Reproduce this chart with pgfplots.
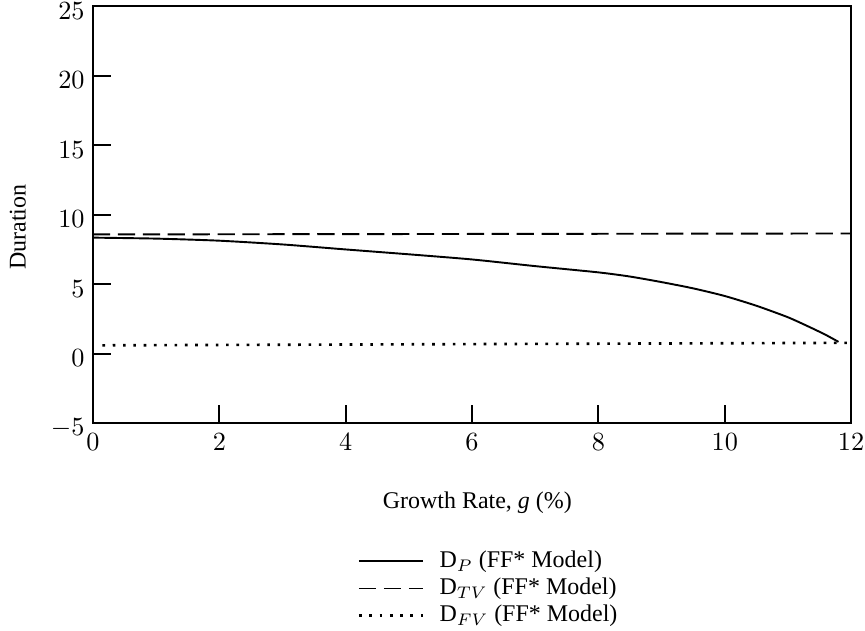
\documentclass[border=0pt]{standalone}
\usepackage{pgfplots}
\pgfplotsset{compat=1.18}
\usepackage{fontspec}
\setmainfont{Liberation Serif}
\begin{document}
\begin{tikzpicture}
\begin{axis}[
  scale only axis,
  width=316.4pt, height=174pt,
  xmin=0, xmax=12, ymin=-5, ymax=25,
  xtick={0,2,...,12}, ytick={-5,0,...,25},
  tick align=inside, xtick pos=bottom, ytick pos=left,
  major tick length=7.5pt,
  tick label style={font=\fontsize{11}{13}\selectfont},
  yticklabel style={yshift=-2pt},
  xticklabel style={yshift=-1pt},
  axis line style={line width=1pt},
  every tick/.style={black, line width=0.9pt},
  xlabel={Growth Rate, \textit{g} (\%)},
  ylabel={Duration},
  xlabel style={at={(axis description cs:0.507,-0.19)}, anchor=center},
  ylabel style={at={(axis description cs:-0.099,0.47)}, anchor=center},
  legend cell align=left,
  legend style={draw=none, fill=none, at={(0.3485,-0.298)}, anchor=north west,
    inner sep=0pt, row sep=0pt, font=\normalsize,
    nodes={inner xsep=0pt, inner ysep=0.3pt, text height=8pt, text depth=2.7pt},
    /tikz/every odd column/.style={column sep=6.4pt}},
  legend image code/.code={\draw[#1] (0pt,0pt) -- (26.7pt,0pt);},
]
\coordinate (o) at (rel axis cs:0,0);
\addplot[black, line width=0.8pt, smooth, tension=0.4] coordinates {
(0,8.35) (1,8.28) (2,8.13) (3,7.86) (4,7.5) (5,7.15) (6,6.78) (7,6.3)
(8,5.85) (8.5,5.55) (9,5.15) (9.5,4.7) (10,4.15) (10.5,3.45) (11,2.62)
(11.35,1.9) (11.6,1.35) (11.8,0.85)};
\addlegendentry{D$_{P}$ (FF* Model)}
\addplot[black, line width=0.8pt, dash pattern=on 7.2pt off 3.2pt] coordinates {(0,8.58) (12,8.65)};
\addlegendentry{D$_{TV}$ (FF* Model)}
\addplot[black, line width=1.1pt, dash pattern=on 1.1pt off 3.2pt] coordinates {(0.15,0.6) (12,0.78)};
\addlegendentry{D$_{FV}$ (FF* Model)}
\end{axis}
\pgfresetboundingbox
\path (o) ++(-38.8pt,-86.4pt) rectangle ++(361pt,263pt);
\end{tikzpicture}
\end{document}
